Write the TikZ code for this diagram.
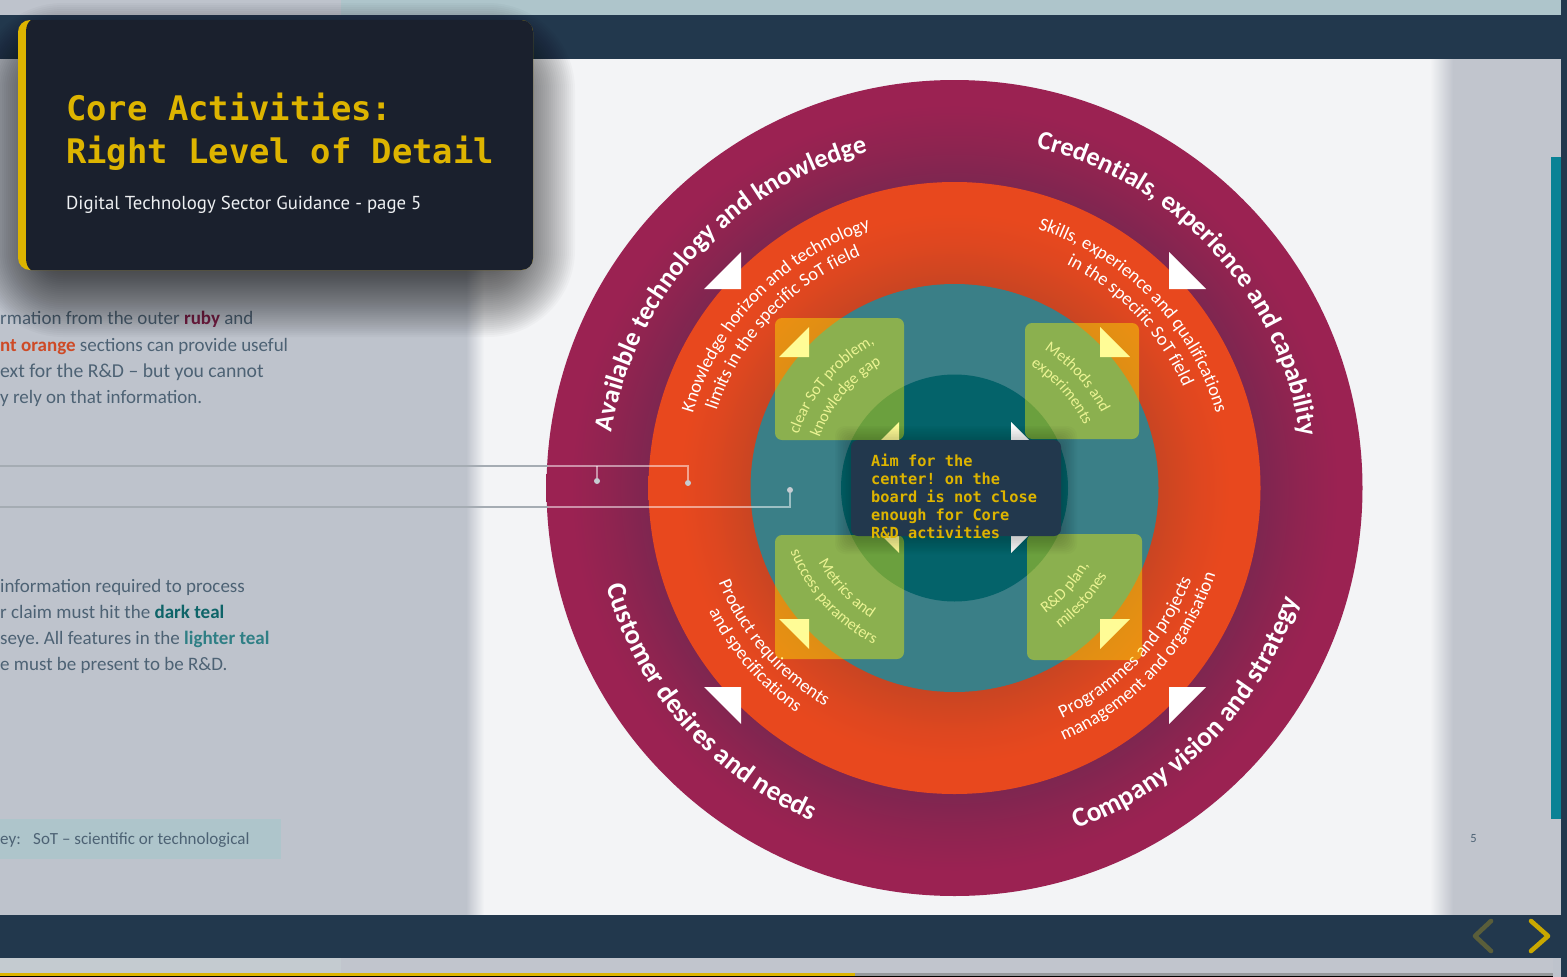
\documentclass[tikz,border=0pt]{standalone}
\usepackage{fontspec}
\usepackage{tikz}
\usetikzlibrary{decorations.text}
\setmainfont{Carlito}
\newfontfamily\monofam{DejaVu Sans Mono}
\newfontfamily\subfam{PT Sans}
\newfontfamily\ringfam{Carlito}
\AtBeginDocument{\frenchspacing}
\definecolor{navy}{HTML}{22384D}
\definecolor{panelL}{HTML}{BEC3CC}
\definecolor{panelR}{HTML}{C1C5CD}
\definecolor{pagew}{HTML}{F3F4F6}
\definecolor{stripteal}{HTML}{AEC5CB}
\definecolor{scrollteal}{HTML}{0A8295}
\definecolor{gold}{HTML}{DDB400}
\definecolor{cardbg}{HTML}{1A202D}
\definecolor{rubA}{HTML}{9B2252}
\definecolor{rubB}{HTML}{8E2450}
\definecolor{rubC}{HTML}{7E2650}
\definecolor{orA}{HTML}{E8481E}
\definecolor{orB}{HTML}{DE4720}
\definecolor{orC}{HTML}{C94522}
\definecolor{tealL}{HTML}{3A7F87}
\definecolor{tealD}{HTML}{04636A}
\definecolor{bodyc}{HTML}{4D6274}
\definecolor{wordruby}{HTML}{7A2048}
\definecolor{wordorange}{HTML}{CE4A26}
\definecolor{wordteal}{HTML}{0E6468}
\definecolor{wordlteal}{HTML}{2F7F85}
\definecolor{overlayy}{RGB}{255,248,0}
\definecolor{innertxt}{RGB}{222,240,250}
\definecolor{connc}{HTML}{A5ACB3}
\definecolor{dotc}{HTML}{C6CCD2}
\definecolor{footl}{HTML}{C4CBD0}
\definecolor{footg}{HTML}{96999B}
\definecolor{chevdim}{HTML}{5A5E3A}
\definecolor{chevon}{HTML}{C9A800}
\definecolor{subc}{HTML}{EEF0F2}
\pgfdeclareradialshading{rubyring}{\pgfpoint{0bp}{0bp}}{color(0bp)=(rubC); color(18.75bp)=(rubC); color(21bp)=(rubB); color(23.5bp)=(rubA); color(25bp)=(rubA); color(50bp)=(rubA)}
\pgfdeclareradialshading{orangering}{\pgfpoint{0bp}{0bp}}{color(0bp)=(orC); color(16.67bp)=(orC); color(20bp)=(orB); color(22.5bp)=(orA); color(25bp)=(orA); color(50bp)=(orA)}
\newcommand{\outerfmt}{\ringfam\bfseries\fontsize{26.3}{29}\selectfont\color{white}}
\newcommand{\outerlow}{\ringfam\bfseries\fontsize{27.5}{29}\selectfont\color{white}}
\newcommand{\midfmt}{\ringfam\fontsize{18.6}{20}\selectfont\color{white}}
\newcommand{\innerfmt}{\ringfam\fontsize{16}{16.5}\selectfont\color{innertxt}}
% radius, centre angle, format, text
\newcommand{\overarc}[4]{\path[decorate,decoration={text along path,text align=center,text={|#3|#4}}] ({#2+75}:#1) arc[start angle={#2+75},end angle={#2-75},radius=#1];}
\newcommand{\underarc}[4]{\path[decorate,decoration={text along path,text align=center,text={|#3|#4}}] ({#2-75}:#1) arc[start angle={#2-75},end angle={#2+75},radius=#1];}
\tikzset{
  bodytext/.style={anchor=base west,inner sep=0pt,text=bodyc,font=\fontsize{19}{22}\selectfont},
  keytext/.style={bodytext,font=\fontsize{17}{20}\selectfont},
  titletext/.style={anchor=base west,inner sep=0pt,text=gold,font=\monofam\bfseries\fontsize{33.85}{40}\selectfont},
  pindot/.style={circle,fill=dotc,draw=none,minimum size=6pt,inner sep=0pt},
  conn/.style={draw=connc,line width=2pt},
  connring/.style={draw=white,draw opacity=.5,line width=2pt},
  overlayrect/.style={fill=overlayy,fill opacity=.41,rounded corners=7pt},
  whitetri/.style={fill=white},
  chev/.style={line width=4.6pt,line cap=round,line join=round},
}
\begin{document}
\begin{tikzpicture}[x=1pt,y=-1pt]
\useasboundingbox (0,0) rectangle (1567,977);
\clip (0,0) rectangle (1567,977);
% backgrounds
\fill[panelL] (0,0) rectangle (1567,977);
\fill[pagew] (480,59) rectangle (1445,915);
\shade[left color=panelL,right color=pagew] (466,59) rectangle (484,915);
\shade[left color=pagew,right color=panelR] (1430,59) rectangle (1453,915);
\fill[panelR] (1453,59) rectangle (1561,915);
\fill[stripteal] (341,0) rectangle (1561,15);
\fill[navy] (0,15) rectangle (1567,59);
\fill[navy] (0,915) rectangle (1567,958);
\fill[navy] (1561,0) rectangle (1567,977);
\fill[footl] (0,958) rectangle (341,973);
\fill[panelR] (341,958) rectangle (1553,973);
\fill[footg] (855,973) rectangle (1553,975.7);
\fill[gold] (0,973) rectangle (855,975.7);
\fill[black] (0,975.7) rectangle (1553,977);
\fill[scrollteal] (1551,157) rectangle (1561,819);
% left text
\node[bodytext] (t1) at (0,324) {rmation from the outer \textbf{\textcolor{wordruby}{ruby}} and};
\node[bodytext] (t2) at (0,351) {\textbf{\textcolor{wordorange}{nt orange}} sections can provide useful};
\node[bodytext,font=\fontsize{19.7}{22}\selectfont] (t3) at (0,377) {ext for the R\&D -- but you cannot};
\node[bodytext] (t4) at (0,403) {y rely on that information.};
\node[bodytext] (t5) at (0,592) {information required to process};
\node[bodytext] (t6) at (0,618) {r claim must hit the \textbf{\textcolor{wordteal}{dark teal}}};
\node[bodytext] (t7) at (0,644) {seye. All features in the \textbf{\textcolor{wordlteal}{lighter teal}}};
\node[bodytext] (t8) at (0,670) {e must be present to be R\&D.};
\fill[stripteal] (0,819) rectangle (281,859);
\node[keytext] (k1) at (0,844) {ey:};
\node[keytext] (k2) at (33,844) {SoT -- scientific or technological};
\node[anchor=center,inner sep=0pt,text=bodyc,font=\fontsize{12.5}{13}\selectfont] (pg) at (1473.5,839) {5};
% target
\shade[shading=rubyring] (954.5,488) circle[radius=408];
\shade[shading=orangering] (954.5,488) circle[radius=306];
\fill[tealL] (954.5,488) circle[radius=204];
\fill[tealD] (954.5,488) circle[radius=113.5];
% connectors
\coordinate (la) at (-3,466);
\coordinate (ra) at (548,466);
\coordinate (lb) at (-3,507);
\coordinate (rb) at (548,507);
\coordinate (jn) at (597,466);
\node[pindot] (d1) at (688,483) {};
\node[pindot] (d2) at (597,481) {};
\node[pindot] (d3) at (790,490) {};
\draw[conn] (la) -- (ra);
\draw[conn] (lb) -- (rb);
\draw[connring] (ra) -| (d1);
\draw[connring] (jn) -- (d2);
\draw[connring] (rb) -| (d3);
% white triangles
\fill[whitetri] (741,252) -- (741,289) -- (704,289) -- cycle;
\fill[whitetri] (1169,252) -- (1169,289) -- (1206,289) -- cycle;
\fill[whitetri] (704,687) -- (741,687) -- (741,724) -- cycle;
\fill[whitetri] (1206,687) -- (1169,687) -- (1169,724) -- cycle;
\fill[whitetri] (809,327) -- (809,357) -- (779,357) -- cycle;
\fill[whitetri] (1100,327) -- (1100,357) -- (1130,357) -- cycle;
\fill[whitetri] (779,619) -- (809,619) -- (809,649) -- cycle;
\fill[whitetri] (1130,619) -- (1100,619) -- (1100,649) -- cycle;
\fill[whitetri] (899,422) -- (899,459) -- (862,459) -- cycle;
\fill[whitetri] (1011,422) -- (1011,459) -- (1048,459) -- cycle;
\fill[whitetri] (862,516) -- (899,516) -- (899,553) -- cycle;
\fill[whitetri] (1048,516) -- (1011,516) -- (1011,553) -- cycle;
% curved labels
\begin{scope}[shift={(954.5,488)},y=1pt]
\overarc{347}{137.6}{\outerfmt}{Available technology and knowledge}
\overarc{350}{42.5}{\outerfmt}{Credentials, experience and capability}
\underarc{362}{221.3}{\outerlow}{Customer desires and needs}
\underarc{362}{315.8}{\outerlow}{Company vision and strategy}
\overarc{272}{136}{\midfmt}{Knowledge horizon and technology}
\overarc{250}{137}{\midfmt}{limits in the specific SoT field}
\overarc{272}{44}{\midfmt}{Skills, experience and qualifications}
\overarc{250}{43.5}{\midfmt}{in the specific SoT field}
\underarc{254}{220.6}{\midfmt}{Product requirements}
\underarc{275}{220.8}{\midfmt}{and specifications}
\underarc{254}{317}{\midfmt}{Programmes and projects}
\underarc{275}{317.5}{\midfmt}{management and organisation}
\overarc{165}{140}{\innerfmt}{clear SoT problem,}
\overarc{144}{140}{\innerfmt}{knowledge gap}
\overarc{165}{42}{\innerfmt}{Methods and}
\overarc{144}{42}{\innerfmt}{experiments}
\underarc{155}{223}{\innerfmt}{Metrics and}
\underarc{176}{222}{\innerfmt}{success parameters}
\underarc{155}{318}{\innerfmt}{R{\&}D plan,}
\underarc{176}{318.5}{\innerfmt}{milestones}
\end{scope}
% translucent yellow panels
\fill[overlayrect] (775,318) rectangle (904,440);
\fill[overlayrect] (1025,323) rectangle (1139,439);
\fill[overlayrect] (775,535) rectangle (904,659);
\fill[overlayrect] (1027,534) rectangle (1142,660);
% centre box with shadow
\foreach \k in {1,...,10}{
  \fill[black,opacity=.02,rounded corners=10pt] ({851-\k*1.6},{440-\k*1.6+2}) rectangle ({1061+\k*1.6},{536+\k*1.6+2});
}
\fill[navy,rounded corners=7pt] (851,440) rectangle (1061,536);
\node[anchor=north west,inner sep=0pt,align=left,text=gold,font=\monofam\bfseries\fontsize{15.3}{18}\selectfont] (aim) at (871,454) {Aim for the\\center! on the\\board is not close\\enough for Core\\R\&D activities};
% chevrons
\coordinate (ca) at (1491,921); \coordinate (cb) at (1475,936); \coordinate (cc) at (1491,951);
\draw[chev,chevdim] (ca) -- (cb) -- (cc);
\coordinate (cd) at (1531,921); \coordinate (ce) at (1548,936); \coordinate (cf) at (1531,951);
\draw[chev,chevon] (cd) -- (ce) -- (cf);
% title card with shadow
\foreach \k in {-42,-40,...,42}{
  \fill[black,opacity=.022,rounded corners={max(45+\k,6)*1pt}] ({18-\k},{45-\k}) rectangle ({533+\k},{295+\k});
}
\fill[gold,rounded corners=12pt] (18,20) rectangle (533,270);
\fill[cardbg] (31,20) -- (521,20) .. controls (528,20) and (533,25) .. (533,32) -- (533,258) .. controls (533,265) and (528,270) .. (521,270) -- (31,270) .. controls (28,268) and (26,264) .. (26,258) -- (26,32) .. controls (26,26) and (28,22) .. (31,20) -- cycle;
\node[titletext] (h1) at (66,120) {Core Activities:};
\node[titletext] (h2) at (66,163) {Right Level of Detail};
\node[anchor=base west,inner sep=0pt,text=subc,font=\subfam\fontsize{18.8}{24}\selectfont] (h3) at (66,209) {Digital Technology Sector Guidance - page 5};
\end{tikzpicture}
\end{document}
